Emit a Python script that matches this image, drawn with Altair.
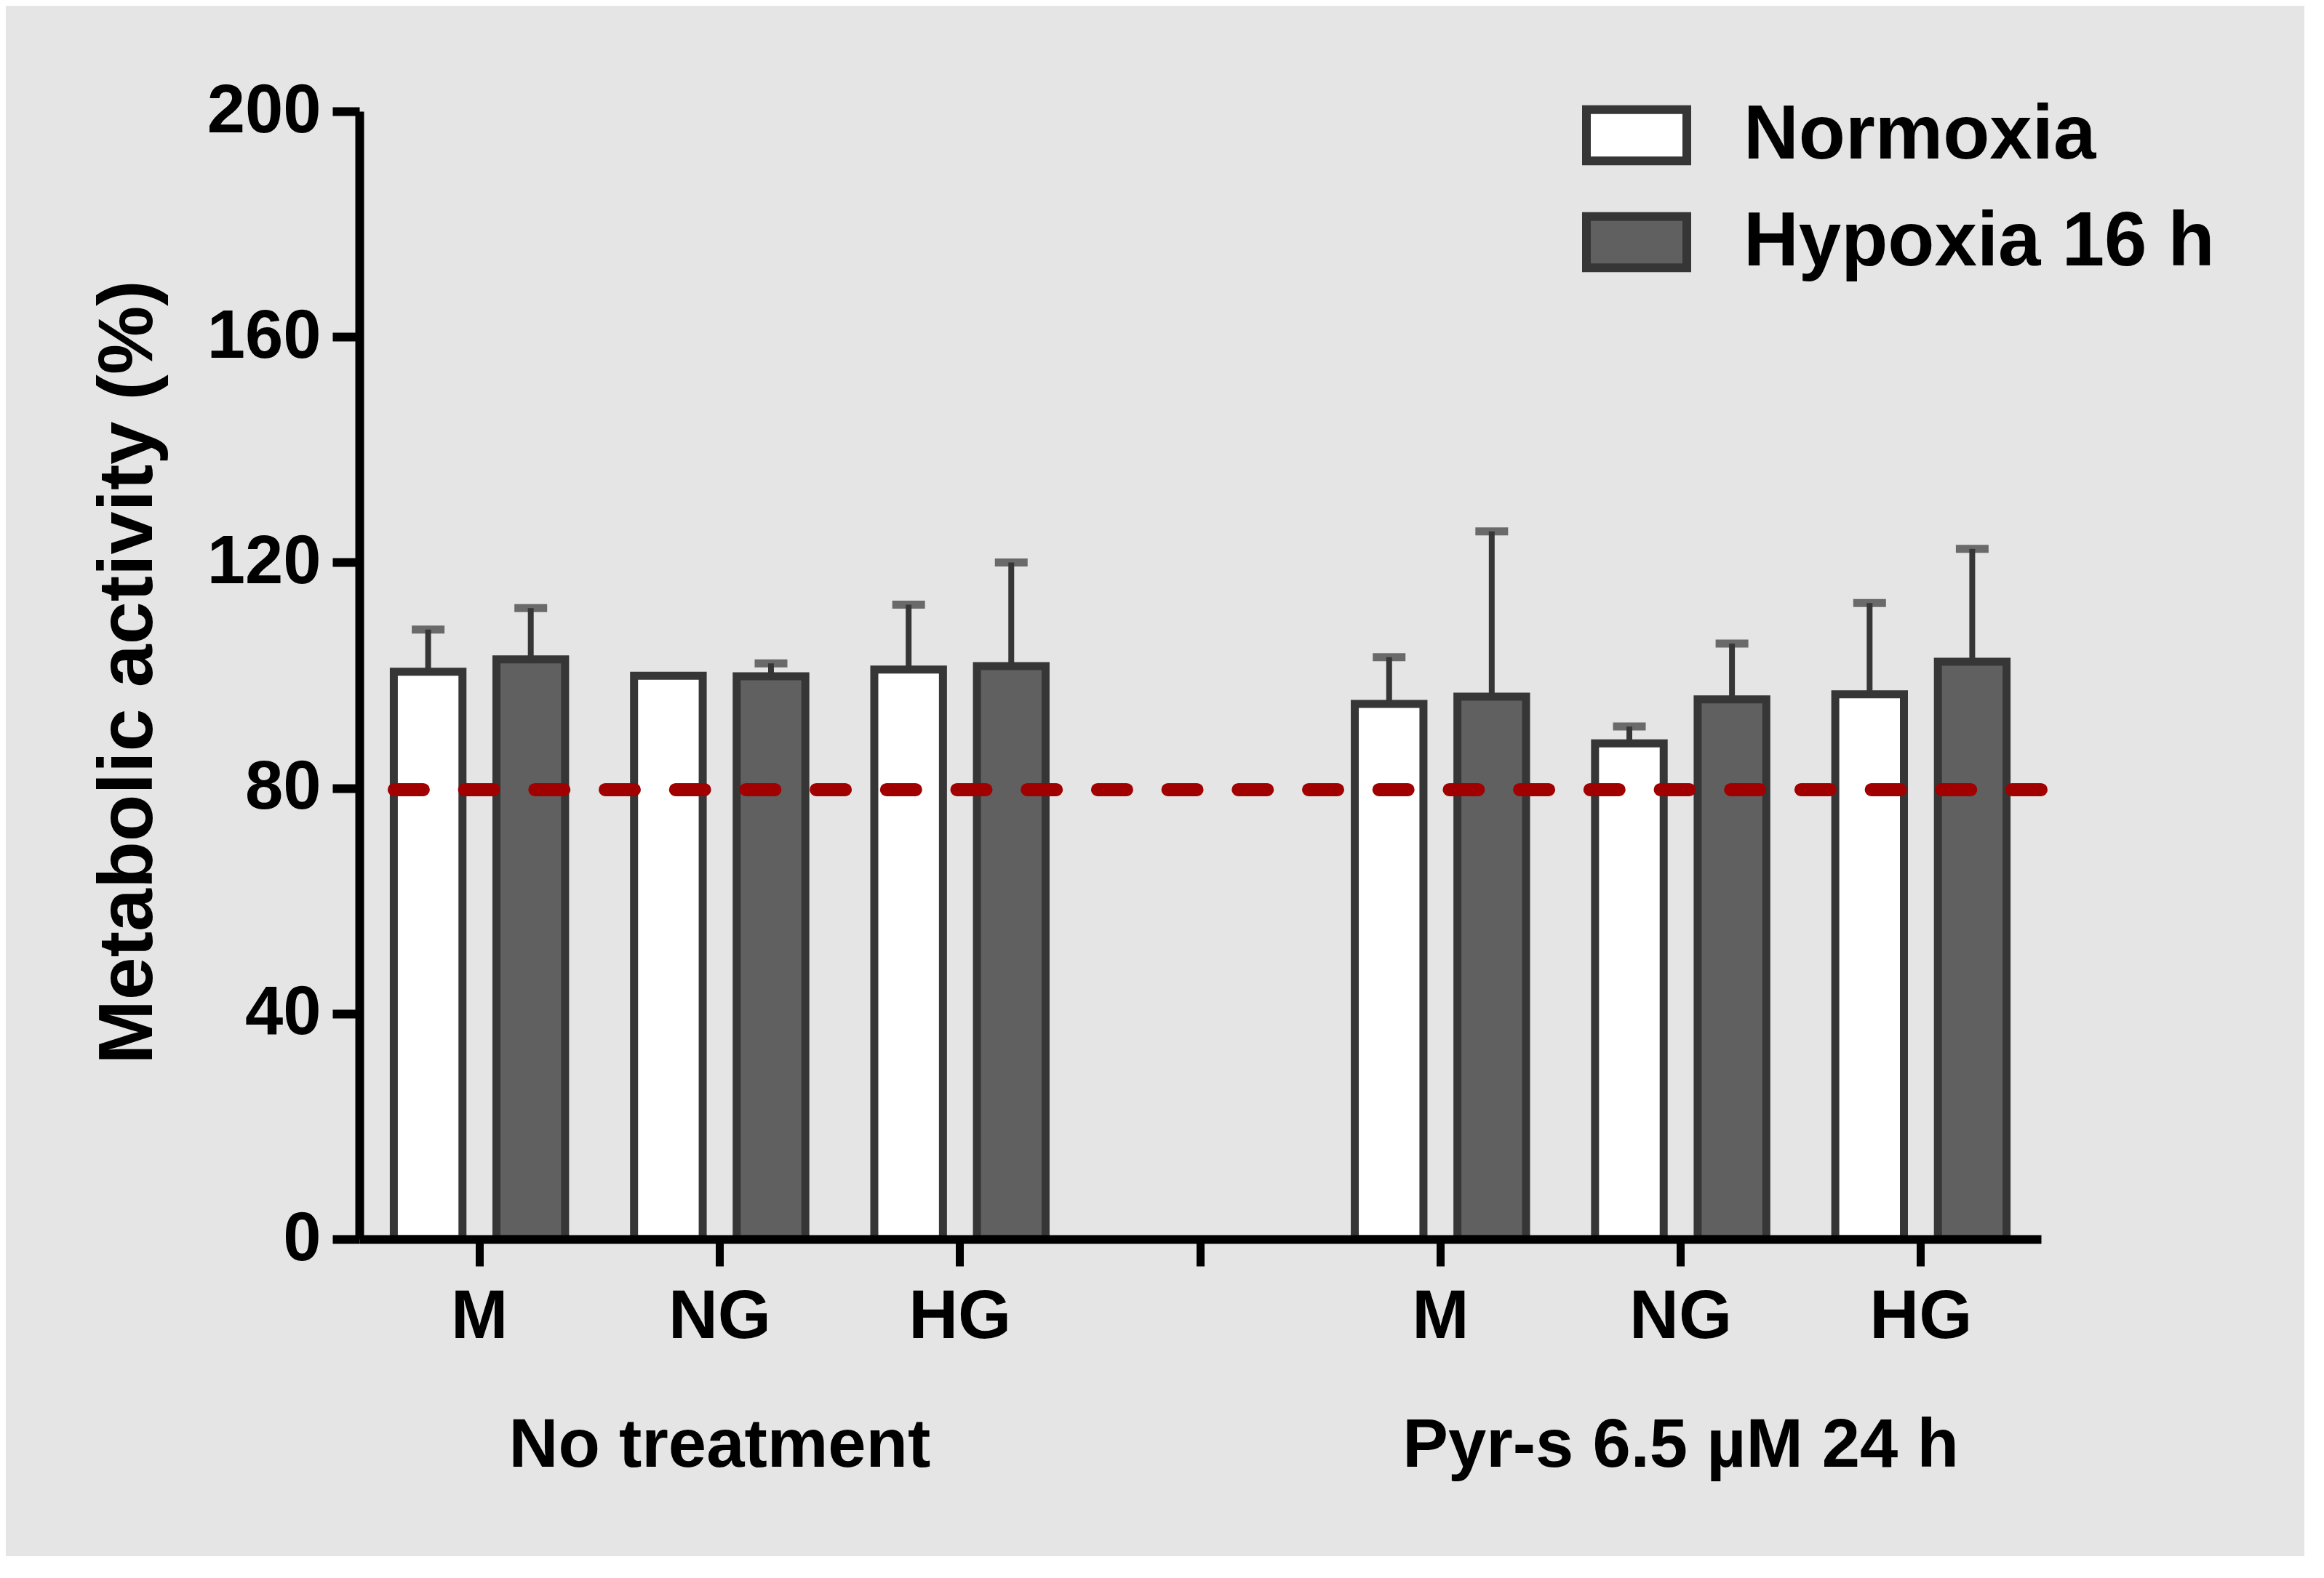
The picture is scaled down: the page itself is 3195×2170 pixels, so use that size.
import altair as alt
import pandas as pd

# ---- data ----
cat_keys = ["NT_M", "NT_NG", "NT_HG", "SEP", "P_M", "P_NG", "P_HG"]
bar_keys = ["NT_M", "NT_NG", "NT_HG", "P_M", "P_NG", "P_HG"]
series_names = ["Normoxia", "Hypoxia 16 h"]
normoxia_mean = [100.6, 99.9, 101.0, 94.9, 87.9, 96.6]
normoxia_upper = [108.1, 99.9, 112.5, 103.2, 90.9, 112.8]
hypoxia_mean = [102.8, 99.8, 101.6, 96.2, 95.7, 102.4]
hypoxia_upper = [111.9, 102.1, 120.0, 125.5, 105.6, 122.4]
threshold = [79.7]
group_names = ["No treatment", "Pyr-s 6.5 \u00b5M 24 h"]
group_anchor = ["NT_NG", "P_NG"]

rows = []
for i, k in enumerate(bar_keys):
    rows.append({"cat": k, "series": series_names[0], "mean": normoxia_mean[i], "upper": normoxia_upper[i]})
    rows.append({"cat": k, "series": series_names[1], "mean": hypoxia_mean[i], "upper": hypoxia_upper[i]})
df = pd.DataFrame(rows)
df_thr = pd.DataFrame({"y": threshold})
df_grp = pd.DataFrame({"cat": group_anchor, "label": group_names})

FONT = "Liberation Sans"
STROKE = "#363636"

x_scale = alt.Scale(domain=cat_keys, paddingInner=0, paddingOuter=0)
xoff_scale = alt.Scale(domain=series_names, paddingInner=0.331, paddingOuter=0.336)
y_scale = alt.Scale(domain=[0, 200], nice=False)

x_enc = alt.X(
    "cat:N",
    scale=x_scale,
    sort=cat_keys,
    axis=alt.Axis(
        title=None,
        labelExpr="indexof(datum.value,'_')>=0 ? split(datum.value,'_')[1] : ''",
        labelAngle=0,
        labelFont=FONT,
        labelFontWeight="bold",
        labelFontSize=94,
        labelColor="black",
        labelPadding=24,
        tickSize=37,
        tickWidth=11,
        tickColor="black",
        domainColor="black",
        domainWidth=12,
        grid=False,
        zindex=1,
    ),
)
y_enc = alt.Y(
    "mean:Q",
    scale=y_scale,
    axis=alt.Axis(
        title="Metabolic activity (%)",
        values=[0, 40, 80, 120, 160, 200],
        labelFont=FONT,
        labelFontWeight="bold",
        labelFontSize=94,
        labelColor="black",
        labelPadding=16,
        tickSize=37,
        tickWidth=12,
        tickColor="black",
        domainColor="black",
        domainWidth=12,
        grid=False,
        titleFont=FONT,
        titleFontWeight="bold",
        titleFontSize=106,
        titleColor="black",
        titleAngle=270,
        titleX=-318,
        titleY=771,
        titleAlign="center",
        titleBaseline="middle",
        zindex=1,
    ),
)
xoff = alt.XOffset("series:N", scale=xoff_scale, sort=series_names)

bars = alt.Chart(df).mark_bar(stroke=STROKE, strokeWidth=11, strokeJoin="miter").encode(
    x=x_enc,
    xOffset=xoff,
    y=y_enc,
    fill=alt.Fill(
        "series:N",
        sort=series_names,
        scale=alt.Scale(domain=series_names, range=["#ffffff", "#606060"]),
        legend=alt.Legend(
            title=None,
            orient="none",
            legendX=1681,
            legendY=-42,
            symbolType="M-1,-0.51H1V0.51H-1Z",
            symbolSize=19044,
            symbolStrokeColor=STROKE,
            symbolStrokeWidth=12,
            labelFont=FONT,
            labelFontWeight="bold",
            labelFontSize=105,
            labelColor="black",
            labelOffset=72,
            rowPadding=12,
            padding=0,
            labelLimit=1000,
        ),
    ),
)

err_base = alt.Chart(df).transform_filter("datum.upper > datum.mean")
err_rule = err_base.mark_rule(color=STROKE, strokeWidth=8).encode(
    x=alt.X("cat:N", scale=x_scale, sort=cat_keys),
    xOffset=xoff,
    y=alt.Y("mean:Q", scale=y_scale),
    y2="upper:Q",
)
err_cap = err_base.mark_tick(color=STROKE, thickness=11, size=45).encode(
    x=alt.X("cat:N", scale=x_scale, sort=cat_keys),
    xOffset=xoff,
    y=alt.Y("upper:Q", scale=y_scale),
)

thr = alt.Chart(df_thr).mark_rule(
    color="#a00000", strokeWidth=18, strokeDash=[40, 56.7], strokeCap="round"
).encode(y=alt.Y("y:Q", scale=y_scale))

grp = alt.Chart(df_grp).mark_text(
    font=FONT, fontWeight="bold", fontSize=94, color="black", baseline="alphabetic", align="center"
).encode(
    x=alt.X("cat:N", scale=x_scale, sort=cat_keys),
    y=alt.value(1864),
    text="label:N",
)

chart = (
    alt.layer(bars, err_rule, err_cap, thr, grp)
    .properties(
        width=2312,
        height=1551,
        background="#e5e5e5",
        autosize=alt.AutoSizeParams(type="none"),
        padding={"left": 486, "top": 145, "right": 362, "bottom": 436},
    )
    .configure_view(stroke=None)
)

chart.save("out.html", embed_options={"renderer": "svg", "actions": False})
